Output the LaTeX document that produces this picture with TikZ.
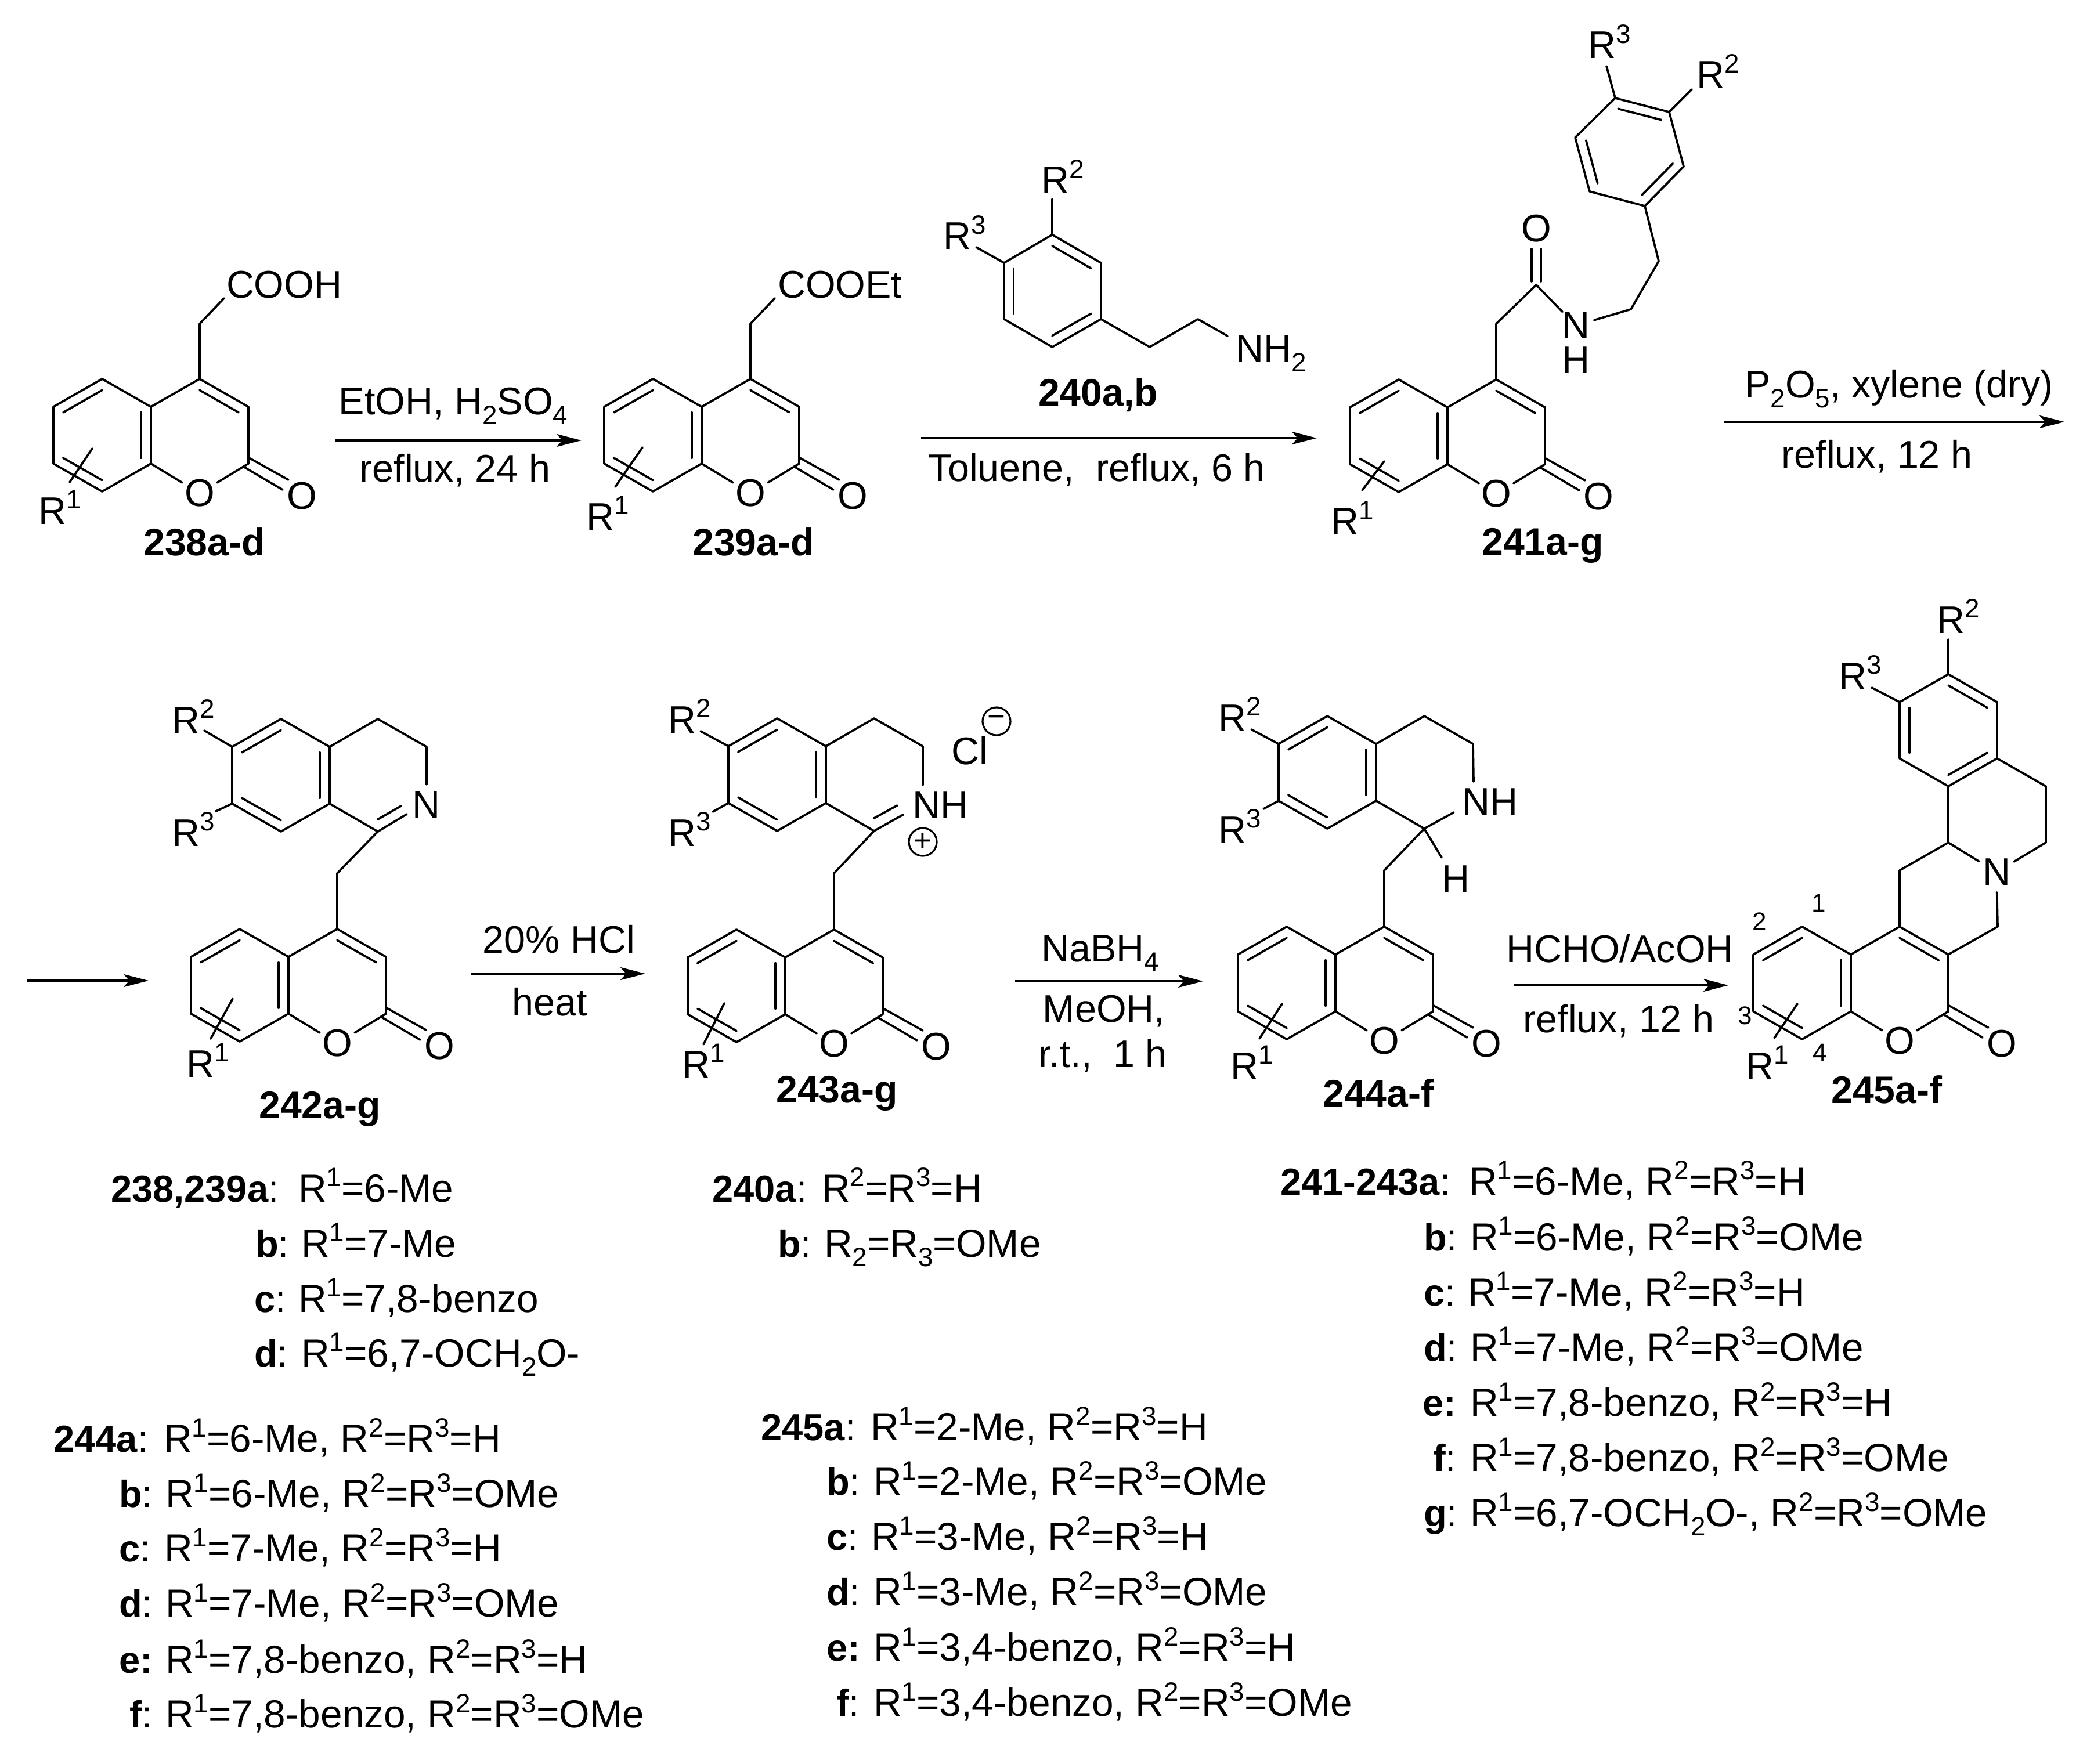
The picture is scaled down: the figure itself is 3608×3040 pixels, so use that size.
\documentclass[tikz,border=0pt]{standalone}
\usepackage{fontspec}
\setmainfont{Liberation Sans}
\usetikzlibrary{calc,arrows.meta}
\newcommand\up[1]{\raisebox{0.26cm}{\fontsize{13pt}{14pt}\selectfont #1}}
\newcommand\dn[1]{\raisebox{-0.16cm}{\fontsize{13pt}{14pt}\selectfont #1}}
\newcommand\Ru[1]{R\up{#1}}
\tikzset{
  bond/.style={line width=1.05pt,line cap=round,line join=round},
  rxn/.style={line width=1.05pt,-{Stealth[length=0.43cm,width=0.22cm,inset=0.1cm]}},
  txt/.style={inner sep=0,outer sep=0,font=\fontsize{18.9pt}{20pt}\selectfont},
  lw/.style={txt,anchor=base west},
  lc/.style={txt,anchor=base},
  bf/.style={txt,anchor=base,font=\fontsize{18.8pt}{20pt}\selectfont\bfseries},
  tlab/.style={lw,font=\fontsize{18.5pt}{20pt}\selectfont},
  tval/.style={lw,font=\fontsize{19.2pt}{20pt}\selectfont},
  atom/.style={txt,circle,minimum size=0.7cm},
  num/.style={inner sep=0,font=\fontsize{12.5pt}{14pt}\selectfont},
  chg/.style={circle,draw,line width=0.9pt,minimum size=0.48cm,inner sep=0,font=\fontsize{15pt}{15pt}\selectfont},
}
\newcommand\dbl[3]{\draw[bond] ($(#1)!0.2!(#3)$) -- ($(#2)!0.2!(#3)$);}
% coumarin: prefix, x, y of C4
\newcommand\coum[3]{%
  \coordinate (#1c4) at (#2,#3);
  \coordinate (#1c3) at (#2+84,#3+48);
  \coordinate (#1c2) at (#2+84,#3+146);
  \coordinate (#1c8a) at (#2-84,#3+146);
  \coordinate (#1c4a) at (#2-84,#3+48);
  \coordinate (#1c5) at (#2-168,#3);
  \coordinate (#1c6) at (#2-252,#3+48);
  \coordinate (#1c7) at (#2-252,#3+146);
  \coordinate (#1c8) at (#2-168,#3+194);
  \coordinate (#1m1) at (#2-168,#3+97);
  \coordinate (#1m2) at (#2,#3+97);
  \coordinate (#1ea) at (#2+85,#3+136);
  \coordinate (#1eb) at (#2+153,#3+174);
  \coordinate (#1ec) at (#2+75,#3+151);
  \coordinate (#1ed) at (#2+143,#3+191);
  \node[atom] (#1o) at (#2,#3+197) {O};
  \node[atom,minimum size=0.2cm] (#1oe) at (#2+176,#3+202) {O};
  \draw[bond] (#1c4)--(#1c3)--(#1c2)--(#1o)--(#1c8a)--(#1c4a)--(#1c4);
  \draw[bond] (#1c4a)--(#1c5)--(#1c6)--(#1c7)--(#1c8)--(#1c8a);
  \draw[bond] (#1ea)--(#1eb) (#1ec)--(#1ed);
  \dbl{#1c5}{#1c6}{#1m1}\dbl{#1c7}{#1c8}{#1m1}\dbl{#1c4a}{#1c8a}{#1m1}\dbl{#1c4}{#1c3}{#1m2}%
}
% dihydroisoquinoline upper part: prefix, x, y of top aromatic CH
\newcommand\isoq[3]{%
  \coordinate (#1a) at (#2-84,#3+48);
  \coordinate (#1b) at (#2,#3);
  \coordinate (#1c) at (#2+84,#3+48);
  \coordinate (#1d) at (#2+84,#3+146);
  \coordinate (#1e) at (#2,#3+194);
  \coordinate (#1f) at (#2-84,#3+146);
  \coordinate (#1g) at (#2+167,#3);
  \coordinate (#1h) at (#2+251,#3+48);
  \coordinate (#1k) at (#2+167,#3+194);
  \coordinate (#1m) at (#2,#3+97);
  \draw[bond] (#1a)--(#1b)--(#1c)--(#1d)--(#1e)--(#1f)--cycle;
  \draw[bond] (#1c)--(#1g)--(#1h) (#1d)--(#1k);
  \dbl{#1a}{#1b}{#1m}\dbl{#1c}{#1d}{#1m}\dbl{#1e}{#1f}{#1m}%
}
\newcounter{tc}
\newcommand\tl[5]{\stepcounter{tc}%
  \node[tlab] (ta\arabic{tc}) at (#1,#3) {\textbf{#4}:};
  \node[tval] (tb\arabic{tc}) at (#2,#3) {#5};}
\newcommand\tle[5]{\stepcounter{tc}%
  \node[tlab] (ta\arabic{tc}) at (#1,#3) {\textbf{#4:}};
  \node[tval] (tb\arabic{tc}) at (#2,#3) {#5};}
\begin{document}
\begin{tikzpicture}[x=0.01cm,y=-0.01cm]
\useasboundingbox (0,0) rectangle (3608,3040);
\fill[white] (0,0) rectangle (3608,3040);

% ---------- 238
\coum{A}{344}{653}
\coordinate (Ach) at (344,558); \coordinate (Ae) at (386,514);
\draw[bond] (Ac4)--(Ach)--(Ae);
\node[lw] (Atx) at (390,514) {COOH};
\coordinate (As1) at (159,773); \coordinate (As2) at (120,831);
\draw[bond] (As1)--(As2);
\node[lw] (Ar1) at (67,903) {\Ru{1}};
\node[bf] (Al) at (352,958) {238a-d};

% arrow 1
\coordinate (a1s) at (578,759); \coordinate (a1e) at (1002,759);
\draw[rxn] (a1s)--(a1e);
\node[lc] (a1t) at (781,715) {EtOH, H\dn{2}SO\dn{4}};
\node[lc] (a1b) at (784,831) {reflux, 24 h};

% ---------- 239
\coum{B}{1293}{653}
\coordinate (Bch) at (1293,558); \coordinate (Be) at (1335,514);
\draw[bond] (Bc4)--(Bch)--(Be);
\node[lw] (Btx) at (1340,514) {COOEt};
\coordinate (Bs1) at (1107,771); \coordinate (Bs2) at (1060,839);
\draw[bond] (Bs1)--(Bs2);
\node[lw] (Br1) at (1010,913) {\Ru{1}};
\node[bf] (Bl) at (1298,958) {239a-d};

% ---------- 240
\coordinate (Ca) at (1813,404.5); \coordinate (Cb) at (1897,453);
\coordinate (Cc) at (1897,550); \coordinate (Cd) at (1813,598);
\coordinate (Ce) at (1730,550); \coordinate (Cf) at (1730,453);
\coordinate (Cm) at (1813,501);
\coordinate (Cg) at (1981,598); \coordinate (Ch) at (2064,550); \coordinate (Ci) at (2115,579);
\coordinate (Cr2) at (1813,343); \coordinate (Cr3) at (1682,426);
\draw[bond] (Ca)--(Cb)--(Cc)--(Cd)--(Ce)--(Cf)--cycle;
\draw[bond] (Cc)--(Cg)--(Ch)--(Ci) (Ca)--(Cr2) (Cf)--(Cr3);
\dbl{Ca}{Cb}{Cm}\dbl{Cc}{Cd}{Cm}\dbl{Ce}{Cf}{Cm}
\node[lw] (Cnh) at (2129,624) {NH\dn{2}};
\node[lw] (Ct2) at (1794,334) {\Ru{2}};
\node[lw] (Ct3) at (1625,430) {\Ru{3}};
\node[bf] (Cl) at (1892,700) {240a,b};
\coordinate (a2s) at (1587,755); \coordinate (a2e) at (2269,755);
\draw[rxn] (a2s)--(a2e);
\node[lc] (a2b) at (1890,830) {Toluene,\ \ reflux, 6 h};

% ---------- 241
\coum{D}{2578}{654}
\coordinate (Dch) at (2578,558); \coordinate (Dco) at (2647,491);
\coordinate (Dca) at (2639,485); \coordinate (Dcb) at (2639,429);
\coordinate (Dcc) at (2655,485); \coordinate (Dcd) at (2655,429);
\node[atom] (Do2) at (2647,394) {O};
\node[atom,minimum size=0.6cm] (Dn) at (2715,561) {N};
\node[txt] (Dh) at (2715,621) {H};
\coordinate (Dp) at (2810,533); \coordinate (Dq) at (2858,450);
\coordinate (Dv1) at (2834,355); \coordinate (Dv2) at (2901,287);
\coordinate (Dv3) at (2876,193); \coordinate (Dv4) at (2783,169);
\coordinate (Dv5) at (2714,237); \coordinate (Dv6) at (2739,330);
\coordinate (Dvm) at (2808,261);
\coordinate (Dr3) at (2768,114); \coordinate (Dr2) at (2915,154);
\draw[bond] (Dc4)--(Dch)--(Dco)--(Dn)--(Dp)--(Dq)--(Dv1);
\draw[bond] (Dca)--(Dcb) (Dcc)--(Dcd);
\draw[bond] (Dv1)--(Dv2)--(Dv3)--(Dv4)--(Dv5)--(Dv6)--cycle;
\draw[bond] (Dv4)--(Dr3) (Dv3)--(Dr2);
\dbl{Dv1}{Dv2}{Dvm}\dbl{Dv3}{Dv4}{Dvm}\dbl{Dv5}{Dv6}{Dvm}
\coordinate (Ds1) at (2385,795); \coordinate (Ds2) at (2347,845);
\draw[bond] (Ds1)--(Ds2);
\node[lw] (Dt1) at (2293,922) {\Ru{1}};
\node[lw] (Dt3) at (2736,101) {\Ru{3}};
\node[lw] (Dt2) at (2923,152) {\Ru{2}};
\node[bf] (Dl) at (2658,957) {241a-g};
\coordinate (a3s) at (2971,727); \coordinate (a3e) at (3557,727);
\draw[rxn] (a3s)--(a3e);
\node[lc] (a3t) at (3272,686) {P\dn{2}O\dn{5}, xylene (dry)};
\node[lc] (a3b) at (3234,807) {reflux, 12 h};

% arrow continuation
\coordinate (a4s) at (46,1690); \coordinate (a4e) at (256,1690);
\draw[rxn] (a4s)--(a4e);

% ---------- 242
\isoq{E}{484}{1239}
\coum{F}{581}{1601}
\coordinate (Fch) at (581,1505);
\node[atom,minimum size=0.2cm] (En) at (734,1387) {N};
\coordinate (Ex) at (735,1352); \coordinate (Ey) at (701,1403);
\coordinate (Eia) at (651,1412); \coordinate (Eib) at (691,1389);
\coordinate (Er2) at (352,1259); \coordinate (Er3) at (372,1398);
\draw[bond] (Eh)--(Ex) (Ek)--(Ey) (Eia)--(Eib) (Ea)--(Er2) (Ef)--(Er3);
\draw[bond] (Ek)--(Fch)--(Fc4);
\coordinate (Fs1) at (401,1721); \coordinate (Fs2) at (363,1790);
\draw[bond] (Fs1)--(Fs2);
\node[lw] (Et2) at (296,1264) {\Ru{2}};
\node[lw] (Et3) at (296,1458) {\Ru{3}};
\node[lw] (Ft1) at (321,1856) {\Ru{1}};
\node[bf] (Fl) at (551,1927) {242a-g};
\coordinate (a5s) at (812,1678); \coordinate (a5e) at (1112,1678);
\draw[rxn] (a5s)--(a5e);
\node[lc] (a5t) at (963,1642) {20\% HCl};
\node[lc] (a5b) at (947,1750) {heat};

% ---------- 243
\isoq{G}{1339}{1238}
\coum{H}{1437}{1602}
\coordinate (Hch) at (1437,1505);
\coordinate (Gx) at (1590,1353); \coordinate (Gy) at (1556,1404);
\coordinate (Gia) at (1506,1410); \coordinate (Gib) at (1546,1388);
\coordinate (Gr2) at (1207,1260); \coordinate (Gr3) at (1228,1399);
\draw[bond] (Gh)--(Gx) (Gk)--(Gy) (Gia)--(Gib) (Ga)--(Gr2) (Gf)--(Gr3);
\draw[bond] (Gk)--(Hch)--(Hc4);
\node[lw] (Gnh) at (1572,1410) {NH};
\node[lw] (Gcl) at (1639,1317) {Cl};
\node[chg] (Gneg) at (1717,1243) {−};
\node[chg] (Gpos) at (1590,1451) {+};
\coordinate (Hs1) at (1248,1729); \coordinate (Hs2) at (1212,1800);
\draw[bond] (Hs1)--(Hs2);
\node[lw] (Gt2) at (1151,1263) {\Ru{2}};
\node[lw] (Gt3) at (1151,1458) {\Ru{3}};
\node[lw] (Ht1) at (1175,1857) {\Ru{1}};
\node[bf] (Hl) at (1442,1900) {243a-g};
\coordinate (a6s) at (1749,1691); \coordinate (a6e) at (2073,1691);
\draw[rxn] (a6s)--(a6e);
\node[lc] (a6t) at (1896,1657) {NaBH\dn{4}};
\node[lc] (a6b) at (1902,1761) {MeOH,};
\node[lc] (a6c) at (1900,1839) {r.t.,\ \ 1 h};

% ---------- 244
\isoq{J}{2287}{1234}
\coum{K}{2385}{1597}
\coordinate (Kch) at (2385,1500);
\coordinate (Jx) at (2539,1347); \coordinate (Jy) at (2505,1400); \coordinate (Jz) at (2484,1478);
\coordinate (Jr2) at (2156,1257); \coordinate (Jr3) at (2177,1394);
\draw[bond] (Jh)--(Jx) (Jk)--(Jy) (Jk)--(Jz) (Ja)--(Jr2) (Jf)--(Jr3);
\draw[bond] (Jk)--(Kch)--(Kc4);
\node[lw] (Jnh) at (2519,1404) {NH};
\node[lw] (Jh2) at (2484,1537) {H};
\coordinate (Ks1) at (2209,1730); \coordinate (Ks2) at (2170,1790);
\draw[bond] (Ks1)--(Ks2);
\node[lw] (Jt2) at (2099,1260) {\Ru{2}};
\node[lw] (Jt3) at (2099,1453) {\Ru{3}};
\node[lw] (Kt1) at (2120,1860) {\Ru{1}};
\node[bf] (Kl) at (2375,1907) {244a-f};
\coordinate (a7s) at (2608,1698); \coordinate (a7e) at (2978,1698);
\draw[rxn] (a7s)--(a7e);
\node[lc] (a7t) at (2791,1658) {HCHO/AcOH};
\node[lc] (a7b) at (2789,1779) {reflux, 12 h};

% ---------- 245
\coum{L}{3273}{1597}
\coordinate (La) at (3273,1500); \coordinate (Lb) at (3357,1452);
\node[atom] (Ln) at (3440,1503) {N};
\coordinate (Lc) at (3442,1597); \coordinate (Ld) at (3525,1452);
\coordinate (Le) at (3525,1355); \coordinate (Lf) at (3441,1307);
\coordinate (Lg) at (3357,1355); \coordinate (Lh) at (3273,1307);
\coordinate (Li) at (3273,1210); \coordinate (Lj) at (3357,1162);
\coordinate (Lk) at (3441,1210); \coordinate (Lm) at (3357,1258);
\coordinate (Lr2) at (3357,1102); \coordinate (Lr3) at (3225,1185);
\draw[bond] (Lc4)--(La)--(Lb)--(Ln)--(Ld)--(Le)--(Lf);
\draw[bond] (Lc3)--(Lc)--(Ln) (Lb)--(Lg);
\draw[bond] (Lf)--(Lg)--(Lh)--(Li)--(Lj)--(Lk)--cycle;
\draw[bond] (Lj)--(Lr2) (Li)--(Lr3);
\dbl{Lj}{Lk}{Lm}\dbl{Lh}{Li}{Lm}\dbl{Lf}{Lg}{Lm}
\coordinate (Ls1) at (3097,1730); \coordinate (Ls2) at (3057,1789);
\draw[bond] (Ls1)--(Ls2);
\node[lw] (Lt1) at (3008,1860) {\Ru{1}};
\node[lw] (Lt2) at (3337,1091) {\Ru{2}};
\node[lw] (Lt3) at (3168,1188) {\Ru{3}};
\node[num] (Ln1) at (3134,1556) {1};
\node[num] (Ln2) at (3032,1588) {2};
\node[num] (Ln3) at (3007,1750) {3};
\node[num] (Ln4) at (3136,1814) {4};
\node[bf] (Ll) at (3251,1901) {245a-f};

% ---------- tables
\tl{191}{514}{2071}{238,239a}{\Ru{1}=6-Me}
\tl{440}{519}{2166}{b}{\Ru{1}=7-Me}
\tl{438}{514}{2261}{c}{\Ru{1}=7,8-benzo}
\tl{438}{519}{2355}{d}{\Ru{1}=6,7-OCH\dn{2}O-}

\tl{92}{282}{2502}{244a}{\Ru{1}=6-Me, \Ru{2}=\Ru{3}=H}
\tl{205}{285}{2597}{b}{\Ru{1}=6-Me, \Ru{2}=\Ru{3}=OMe}
\tl{205}{283}{2691}{c}{\Ru{1}=7-Me, \Ru{2}=\Ru{3}=H}
\tl{205}{285}{2786}{d}{\Ru{1}=7-Me, \Ru{2}=\Ru{3}=OMe}
\tle{205}{285}{2883}{e}{\Ru{1}=7,8-benzo, \Ru{2}=\Ru{3}=H}
\tl{223}{285}{2977}{f}{\Ru{1}=7,8-benzo, \Ru{2}=\Ru{3}=OMe}

\tl{1227}{1416}{2071}{240a}{\Ru{2}=\Ru{3}=H}
\tl{1340}{1420}{2166}{b}{R\dn{2}=R\dn{3}=OMe}

\tl{1311}{1500}{2482}{245a}{\Ru{1}=2-Me, \Ru{2}=\Ru{3}=H}
\tl{1424}{1505}{2576}{b}{\Ru{1}=2-Me, \Ru{2}=\Ru{3}=OMe}
\tl{1424}{1501}{2671}{c}{\Ru{1}=3-Me, \Ru{2}=\Ru{3}=H}
\tl{1424}{1505}{2766}{d}{\Ru{1}=3-Me, \Ru{2}=\Ru{3}=OMe}
\tle{1424}{1505}{2862}{e}{\Ru{1}=3,4-benzo, \Ru{2}=\Ru{3}=H}
\tl{1441}{1505}{2957}{f}{\Ru{1}=3,4-benzo, \Ru{2}=\Ru{3}=OMe}

\tl{2206}{2531}{2059}{241-243a}{\Ru{1}=6-Me, \Ru{2}=\Ru{3}=H}
\tl{2453}{2533}{2155}{b}{\Ru{1}=6-Me, \Ru{2}=\Ru{3}=OMe}
\tl{2453}{2529}{2250}{c}{\Ru{1}=7-Me, \Ru{2}=\Ru{3}=H}
\tl{2453}{2533}{2345}{d}{\Ru{1}=7-Me, \Ru{2}=\Ru{3}=OMe}
\tle{2451}{2533}{2440}{e}{\Ru{1}=7,8-benzo, \Ru{2}=\Ru{3}=H}
\tl{2469}{2533}{2535}{f}{\Ru{1}=7,8-benzo, \Ru{2}=\Ru{3}=OMe}
\tl{2453}{2533}{2630}{g}{\Ru{1}=6,7-OCH\dn{2}O-, \Ru{2}=\Ru{3}=OMe}
\end{tikzpicture}
\end{document}
